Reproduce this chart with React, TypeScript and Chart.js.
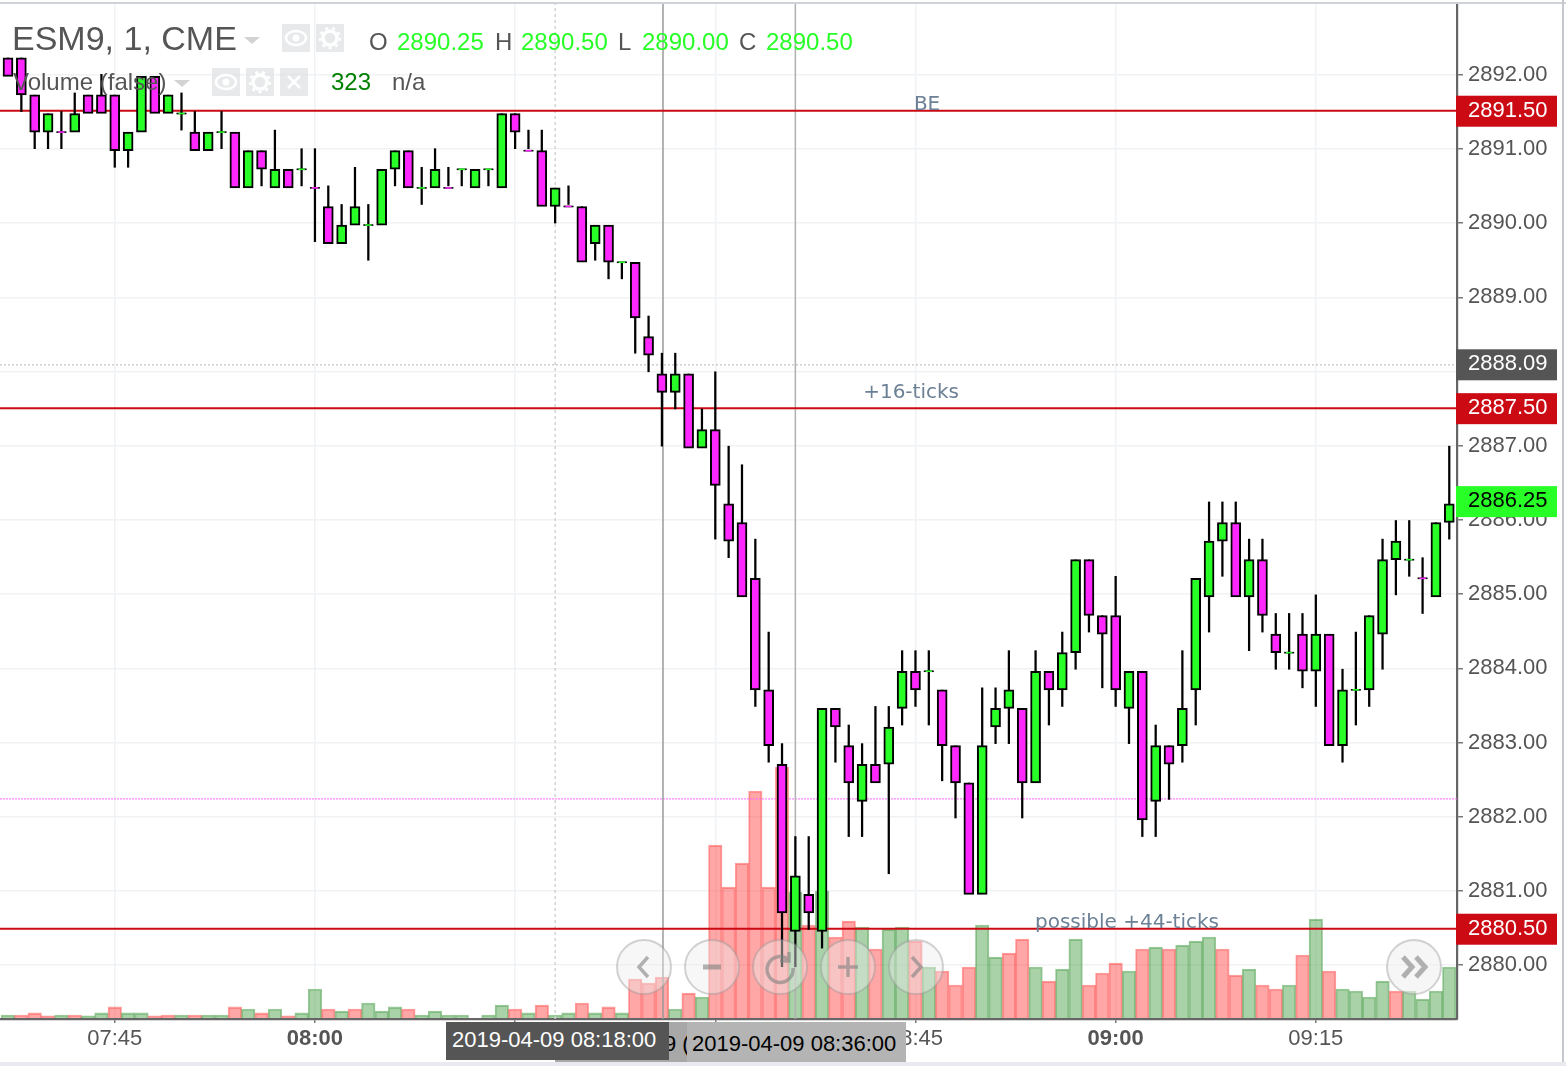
import React, { useEffect, useRef } from "react";
import { Chart, registerables } from "chart.js";

Chart.register(...registerables);

const firstMinute = 457; // 07:37
const opens = [2892.25,2892.25,2891.75,2891.25,2891.25,2891.25,2891.75,2891.75,2891.75,2891,2891.25,2892,2891.5,2891.5,2891.25,2891,2891.25,2891.25,2890.5,2891,2890.5,2890.75,2890.75,2890.5,2890.25,2889.75,2890,2890,2890,2890.75,2891,2890.5,2890.5,2890.5,2890.75,2890.5,2890.75,2890.5,2891.5,2891,2891,2890.25,2890.25,2890.25,2889.75,2890,2889.5,2889.5,2888.5,2888,2887.75,2888,2887,2887.25,2886.25,2886,2885.25,2883.75,2882.75,2880.5,2881,2880.5,2883.5,2883,2882.25,2882.75,2882.75,2883.5,2884,2884,2883.75,2883,2882.5,2881,2883.25,2883.5,2883.5,2882.5,2884,2883.75,2884.25,2885.5,2884.75,2884.75,2883.5,2884,2882.25,2883,2883,2883.75,2885,2885.75,2886,2885,2885.5,2884.5,2884.25,2884.5,2884,2884.5,2883,2883.75,2883.75,2884.5,2885.5,2885.5,2885.25,2885,2886];
const highs = [2892.25,2892.25,2891.75,2891.5,2891.5,2891.75,2891.75,2892,2891.75,2891.25,2892,2892,2891.75,2891.75,2891.5,2891.25,2891.5,2891.25,2891,2891,2891.25,2890.75,2891,2891,2890.5,2890.25,2890.75,2890.25,2890.75,2891,2891,2890.75,2891,2890.75,2890.75,2890.75,2890.75,2891.5,2891.5,2891.25,2891.25,2890.5,2890.5,2890.25,2890,2890,2889.5,2889.5,2888.75,2888.25,2888.25,2888,2887.5,2888,2887,2886.75,2885.75,2884.5,2883,2881.75,2881.75,2883.5,2883.5,2883.25,2883,2883.5,2883.5,2884.25,2884.25,2884.25,2883.75,2883,2882.5,2883.75,2883.75,2884.25,2883.5,2884.25,2884,2884.5,2885.5,2885.5,2884.75,2885.25,2884,2884,2883.25,2883,2884.25,2885.25,2886.25,2886.25,2886.25,2885.75,2885.75,2884.75,2884.75,2884.75,2885,2884.5,2884,2884.5,2884.75,2885.75,2886,2886,2885.5,2886,2887];
const lows = [2892,2891.5,2891,2891,2891,2891.25,2891.5,2891.5,2890.75,2890.75,2891.25,2891.5,2891.5,2891.25,2891,2891,2891,2890.5,2890.5,2890.5,2890.5,2890.5,2890.5,2889.75,2889.75,2889.75,2890,2889.5,2890,2890.5,2890.5,2890.25,2890.5,2890.5,2890.5,2890.5,2890.5,2890.5,2891,2891,2890.25,2890,2890.25,2889.5,2889.5,2889.25,2889.25,2888.25,2888,2887,2887.5,2887,2887,2885.75,2885.5,2885,2883.5,2882.75,2880,2880,2880.5,2880.25,2882.75,2881.75,2881.75,2882.5,2881.25,2883.25,2883.5,2883.25,2882.5,2882,2881,2881,2883,2883,2882,2882.5,2883.25,2883.5,2884,2884.5,2883.75,2883.5,2883,2881.75,2881.75,2882.25,2882.75,2883.25,2884.5,2885.25,2885,2884.25,2884.5,2884,2884,2883.75,2883.5,2883,2882.75,2883.25,2883.5,2884,2885,2885.25,2884.75,2885,2885.75];
const closes = [2892,2891.75,2891.25,2891.5,2891.25,2891.5,2891.5,2891.5,2891,2891.25,2892,2891.5,2891.75,2891.5,2891,2891.25,2891.25,2890.5,2891,2890.75,2890.75,2890.5,2890.75,2890.5,2889.75,2890,2890.25,2890,2890.75,2891,2890.5,2890.5,2890.75,2890.5,2890.75,2890.75,2890.75,2891.5,2891.25,2891,2890.25,2890.5,2890.25,2889.5,2890,2889.5,2889.5,2888.75,2888.25,2887.75,2888,2887,2887.25,2886.5,2885.75,2885,2883.75,2883,2880.75,2881.25,2880.75,2883.5,2883.25,2882.5,2882.75,2882.5,2883.25,2884,2883.75,2884,2883,2882.5,2881,2883,2883.5,2883.75,2882.5,2884,2883.75,2884.25,2885.5,2884.75,2884.5,2883.75,2884,2882,2883,2882.75,2883.5,2885.25,2885.75,2886,2885,2885.5,2884.75,2884.25,2884.25,2884,2884.5,2883,2883.75,2883.75,2884.75,2885.5,2885.75,2885.5,2885.25,2886,2886.25];
const dojiDown = [5, 24, 34, 40, 43, 107];
const volumes = [19,19,32,13,19,19,13,32,70,32,32,13,19,19,19,19,19,70,57,32,57,13,32,184,57,44,57,95,44,70,57,19,44,19,19,0,19,82,57,32,82,19,32,95,32,70,32,247,222,260,57,158,133,1095,829,981,1437,829,1589,798,589,804,513,614,576,437,563,576,487,323,298,209,323,589,386,411,500,323,234,310,500,209,285,348,298,437,449,437,462,487,513,437,272,310,209,184,209,399,627,298,184,171,133,234,171,171,120,171,323];
const volumeDown = [2,3,4,6,9,12,13,15,18,20,22,25,27,31,39,41,44,46,48,49,50,52,54,55,56,57,58,59,61,63,64,66,69,71,72,73,76,77,79,82,83,84,86,88,92,93,95,96,98,100,105];

const priceTicks = [2880,2881,2882,2883,2884,2885,2886,2887,2888,2889,2890,2891,2892];
const timeTickMinutes = [465,480,495,510,525,540,555];
const timeTickLabels = ["07:45","08:00","08:15","08:30","08:45","09:00","09:15"];

const redLevels = [2891.5, 2887.5, 2880.5];
const lineLabels = ["BE", "+16-ticks", "possible +44-ticks"];
const lineLabelMinutes = [525.87, 524.67, 540.85];
const lineLabelPrices = [2891.59, 2887.71, 2880.57];
const lastPrice = 2886.25;
const grayLevel = 2888.09;
const pinkLevel = 2882.24;
const verticalMinutes = [506.08, 516];
const crosshairMinute = 498;

const xMin = 456.4;
const xMax = 565.579;
// price axis (grid and labels)
const yMin = 2879.274;
const yMax = 2892.953;
// hidden axes: the source draws price lines and candle parts a couple of pixels off its grid
const levelMin = 2879.286;
const levelMax = 2892.935;
const bodyShift = 0.0377;
const wickShift = 0.0108;
const wickInset = 0.03;
const volMin = -6.33;
const volMax = 6425;

const GREEN = "#27ff27";
const MAGENTA = "#ff27ff";
const RED = "#cc0a14";
const FONT = '"Liberation Sans", Arial, sans-serif';

const isDown = (i: number) =>
  closes[i] < opens[i] || (closes[i] === opens[i] && dojiDown.includes(i + 1));

const noPadding = (axis: any) => {
  axis.paddingTop = 0;
  axis.paddingBottom = 0;
  axis.paddingLeft = 0;
  axis.paddingRight = 0;
};

const tagPlugin = {
  id: "tags",
  afterDatasetsDraw(chart: any) {
    const { ctx, scales } = chart;
    ctx.save();
    ctx.font = '20px "DejaVu Sans"';
    ctx.fillStyle = "#6c8096";
    ctx.textAlign = "center";
    ctx.textBaseline = "middle";
    lineLabels.forEach((t, i) => {
      ctx.fillText(t, scales.x.getPixelForValue(lineLabelMinutes[i]), scales.y.getPixelForValue(lineLabelPrices[i]));
    });
    ctx.restore();
  },
  afterDraw(chart: any) {
    const { ctx, scales } = chart;
    const x = scales.x.right - 1;
    const tag = (v: number, bg: string, fg: string) => {
      const y = scales.level.getPixelForValue(v);
      ctx.fillStyle = bg;
      ctx.fillRect(x, y - 15, 101, 31);
      ctx.fillStyle = fg;
      ctx.font = "22px " + FONT;
      ctx.textAlign = "left";
      ctx.textBaseline = "middle";
      ctx.fillText(v.toFixed(2), x + 12, y);
    };
    ctx.save();
    redLevels.forEach((v) => tag(v, RED, "#fff"));
    tag(grayLevel, "#555555", "#fff");
    tag(lastPrice, GREEN, "#000");
    ctx.restore();
  },
};

const abs = (left: number, top: number, extra: any = {}): any => ({
  position: "absolute",
  left,
  top,
  whiteSpace: "nowrap",
  fontFamily: FONT,
  ...extra,
});

const Txt = ({ x, y, size, color, children }: any) => (
  <span style={abs(x, y - size * 0.6, { fontSize: size, lineHeight: size * 1.2 + "px", color })}>{children}</span>
);

const Eye = () => (
  <svg width="28" height="28" viewBox="0 0 28 28">
    <ellipse cx="14" cy="14" rx="10" ry="7" fill="none" stroke="#fff" strokeWidth="2.5" />
    <circle cx="14" cy="14" r="3.5" fill="#fff" />
  </svg>
);
const Gear = () => (
  <svg width="28" height="28" viewBox="0 0 28 28">
    <circle cx="14" cy="14" r="7" fill="none" stroke="#fff" strokeWidth="3.5" />
    <circle cx="14" cy="14" r="10" fill="none" stroke="#fff" strokeWidth="2.5" strokeDasharray="3 4" />
  </svg>
);
const Cross = () => (
  <svg width="28" height="28" viewBox="0 0 28 28">
    <path d="M8 8 L20 20 M20 8 L8 20" stroke="#fff" strokeWidth="2.5" />
  </svg>
);
const Box = ({ x, y, children }: any) => (
  <div style={abs(x, y, { width: 28, height: 28, background: "rgba(222,224,226,0.72)" })}>{children}</div>
);
const Caret = ({ x, y }: any) => (
  <div
    style={abs(x, y, {
      width: 0,
      height: 0,
      borderLeft: "8px solid transparent",
      borderRight: "8px solid transparent",
      borderTop: "7px solid #d3d3d3",
    })}
  />
);

const Nav = ({ cx, cy, bg, d, w = 3.5 }: any) => (
  <svg width="58" height="58" viewBox="0 0 58 58" style={abs(cx - 29, cy - 29)}>
    <circle cx="29" cy="29" r="27" fill={bg} stroke="rgba(150,150,150,0.42)" strokeWidth="2" />
    <path d={d} fill="none" stroke="rgba(130,130,130,0.6)" strokeWidth={w} />
  </svg>
);

export default function App() {
  const ref = useRef<HTMLCanvasElement | null>(null);
  useEffect(() => {
    if (!ref.current) return;
    const idx = opens.map((_, i) => i);
    const minute = (i: number) => firstMinute + i;
    const hLine = (v: number, color: string, width: number, dash: number[], order: number, yAxisID: string) => ({
      type: "line",
      data: [{ x: xMin, y: v }, { x: xMax, y: v }],
      borderColor: color,
      borderWidth: width,
      borderDash: dash,
      pointRadius: 0,
      order,
      yAxisID,
    });
    const vLine = (m: number, color: string, width: number, dash: number[]) => ({
      type: "line",
      data: [{ x: m, y: yMin }, { x: m, y: yMax }],
      borderColor: color,
      borderWidth: width,
      borderDash: dash,
      pointRadius: 0,
      order: 6,
      yAxisID: "y",
    });
    const hiddenAxis = (min: number, max: number) => ({
      type: "linear",
      display: false,
      position: "right",
      min,
      max,
      grid: { display: false },
    });
    // a wick that ends at the body's top edge stops just inside the body
    const wickTop = (i: number) => {
      const top = Math.max(opens[i], closes[i]);
      return highs[i] > top ? highs[i] : top - wickInset;
    };
    const dojis = idx.filter((i) => opens[i] === closes[i]);
    const chart = new Chart(ref.current, {
      type: "bar",
      data: {
        datasets: [
          {
            data: idx.map((i) => ({ x: minute(i), y: volumes[i] })),
            yAxisID: "v",
            grouped: false,
            barThickness: 13.5,
            borderWidth: { top: 1.5, left: 1.2, right: 1.2, bottom: 0 },
            backgroundColor: idx.map((i) => (volumeDown.includes(i + 1) ? "rgba(255,77,77,0.5)" : "rgba(83,165,83,0.5)")),
            borderColor: idx.map((i) => (volumeDown.includes(i + 1) ? "rgba(255,60,60,0.5)" : "rgba(70,155,70,0.55)")),
            order: 10,
          },
          ...redLevels.map((v) => hLine(v, RED, 2, [], 5, "level")),
          hLine(grayLevel, "#c4c4c4", 1.2, [2, 2], 7, "y"),
          hLine(pinkLevel, "#ff66ff", 1, [2, 1], 7, "y"),
          vLine(verticalMinutes[0], "#9a9a9a", 1.5, []),
          vLine(verticalMinutes[1], "#b0b0b0", 1.5, []),
          vLine(crosshairMinute, "#cfcfcf", 1.4, [3, 3]),
          {
            data: idx.map((i) => ({ x: minute(i), y: [lows[i], wickTop(i)] })),
            yAxisID: "wick",
            grouped: false,
            barThickness: 1.6,
            backgroundColor: "#000",
            order: 3,
          },
          {
            data: idx.filter((i) => opens[i] !== closes[i]).map((i) => ({ x: minute(i), y: [opens[i], closes[i]] })),
            yAxisID: "body",
            grouped: false,
            barThickness: 10,
            borderWidth: 2,
            borderSkipped: false,
            borderColor: "#000",
            backgroundColor: idx.filter((i) => opens[i] !== closes[i]).map((i) => (isDown(i) ? MAGENTA : GREEN)),
            order: 2,
          },
          {
            type: "line",
            showLine: false,
            data: dojis.map((i) => ({ x: minute(i), y: opens[i] })),
            yAxisID: "body",
            pointStyle: "line",
            pointRadius: 5,
            pointBorderWidth: 1.6,
            pointBorderColor: "#000",
            order: 2,
          },
          {
            type: "line",
            showLine: false,
            data: dojis.map((i) => ({ x: minute(i), y: opens[i] })),
            yAxisID: "body",
            pointStyle: "line",
            pointRadius: 3.2,
            pointBorderWidth: 1.6,
            pointBorderColor: dojis.map((i) => (isDown(i) ? MAGENTA : GREEN)),
            order: 1,
          },
        ] as any,
      },
      options: {
        responsive: false,
        animation: false,
        layout: { padding: { top: 4 }, autoPadding: false },
        font: { family: FONT },
        plugins: { legend: { display: false }, tooltip: { enabled: false } },
        scales: {
          x: {
            type: "linear",
            min: xMin,
            max: xMax,
            offset: false,
            position: "bottom",
            afterBuildTicks: (axis: any) => {
              axis.ticks = timeTickMinutes.map((value) => ({ value }));
            },
            afterFit: (axis: any) => {
              axis.height = 47;
              noPadding(axis);
            },
            grid: { offset: false, color: "#f0f2f4", lineWidth: 1.5, tickLength: 4, tickColor: "#777" },
            border: { color: "#666", width: 2.2 },
            ticks: {
              autoSkip: false,
              maxRotation: 0,
              padding: 3,
              color: "#555",
              font: (c: any) => ({
                family: FONT,
                size: 22,
                weight: c.tick && c.tick.value % 60 === 0 ? "bold" : "normal",
              }),
              callback: (v: any) => timeTickLabels[timeTickMinutes.indexOf(Number(v))] ?? "",
            },
          },
          y: {
            type: "linear",
            position: "right",
            min: yMin,
            max: yMax,
            afterBuildTicks: (axis: any) => {
              axis.ticks = priceTicks.map((value) => ({ value }));
            },
            afterFit: (axis: any) => {
              axis.width = 109;
              noPadding(axis);
            },
            grid: { color: "#f0f2f4", lineWidth: 1.5, tickLength: 6, tickColor: "#777" },
            border: { color: "#666", width: 2.2 },
            ticks: {
              autoSkip: false,
              padding: 5,
              color: "#555",
              font: { family: FONT, size: 22 },
              callback: (v: any) => Number(v).toFixed(2),
            },
          },
          level: hiddenAxis(levelMin, levelMax),
          body: hiddenAxis(levelMin + bodyShift, levelMax + bodyShift),
          wick: hiddenAxis(levelMin + wickShift, levelMax + wickShift),
          v: hiddenAxis(volMin, volMax),
        },
      } as any,
      plugins: [tagPlugin as any],
    });
    return () => chart.destroy();
  }, []);

  const labelBox = (left: number, width: number, top: number, height: number, bg: string, color: string, pad: number, text: string, lineH: number) => (
    <div
      style={abs(left, top, {
        width,
        height,
        background: bg,
        color,
        fontSize: 22,
        lineHeight: lineH + "px",
        paddingLeft: pad,
        boxSizing: "border-box",
        overflow: "hidden",
      })}
    >
      {text}
    </div>
  );

  return (
    <div style={{ position: "absolute", left: 0, top: 0, width: 1566, height: 1066, overflow: "hidden", background: "#fff" }}>
      <canvas ref={ref} width={1566} height={1066} style={{ display: "block", width: 1566, height: 1066 }} />

      <div style={abs(0, 2, { width: 1566, height: 2, background: "#cfd3d8" })} />
      <div style={abs(1562, 0, { width: 2, height: 1066, background: "#c4c8cc" })} />
      <div style={abs(0, 1062, { width: 1566, height: 4, background: "#e8eaf0" })} />

      <Txt x={12} y={38} size={34} color="#555">ESM9, 1, CME</Txt>
      <Caret x={244} y={37} />
      <Box x={282} y={24}><Eye /></Box>
      <Box x={316} y={24}><Gear /></Box>
      <Txt x={369} y={42} size={24} color="#555">O</Txt>
      <Txt x={397} y={42} size={24} color={GREEN}>2890.25</Txt>
      <Txt x={495} y={42} size={24} color="#555">H</Txt>
      <Txt x={521} y={42} size={24} color={GREEN}>2890.50</Txt>
      <Txt x={618} y={42} size={24} color="#555">L</Txt>
      <Txt x={642} y={42} size={24} color={GREEN}>2890.00</Txt>
      <Txt x={739} y={42} size={24} color="#555">C</Txt>
      <Txt x={766} y={42} size={24} color={GREEN}>2890.50</Txt>

      <Txt x={13} y={82} size={24} color="#555">Volume (false)</Txt>
      <Caret x={174} y={80} />
      <Box x={212} y={68}><Eye /></Box>
      <Box x={246} y={68}><Gear /></Box>
      <Box x={280} y={68}><Cross /></Box>
      <Txt x={331} y={82} size={24} color="#008000">323</Txt>
      <Txt x={392} y={82} size={24} color="#555">n/a</Txt>

      <Nav cx={644} cy={967} bg="rgba(236,236,236,0.42)" d="M33 19 L24 29 L33 39" />
      <Nav cx={712} cy={967} bg="rgba(236,236,236,0.42)" d="M20 29 L38 29" w={5} />
      <Nav cx={780} cy={967} bg="rgba(236,236,236,0.42)" d="M38 22 A13 13 0 1 0 42 30 M38 14 L38 23 L29 23" />
      <Nav cx={848} cy={967} bg="rgba(236,236,236,0.42)" d="M19 29 L39 29 M29 19 L29 39" />
      <Nav cx={916} cy={967} bg="rgba(236,236,236,0.42)" d="M25 19 L34 29 L25 39" />
      <Nav cx={1414} cy={967} bg="rgba(240,240,240,0.6)" d="M18 19 L27 29 L18 39 M31 19 L40 29 L31 39" w={5} />

      {labelBox(555, 132, 1022, 40, "#a8a8a8", "#000", 109, "9 (", 44)}
      {labelBox(446, 223, 1022, 38, "#555555", "#fff", 6, "2019-04-09 08:18:00", 36)}
      {labelBox(687, 219, 1022, 40, "#b4b4b4", "#000", 5, "2019-04-09 08:36:00", 44)}
    </div>
  );
}
